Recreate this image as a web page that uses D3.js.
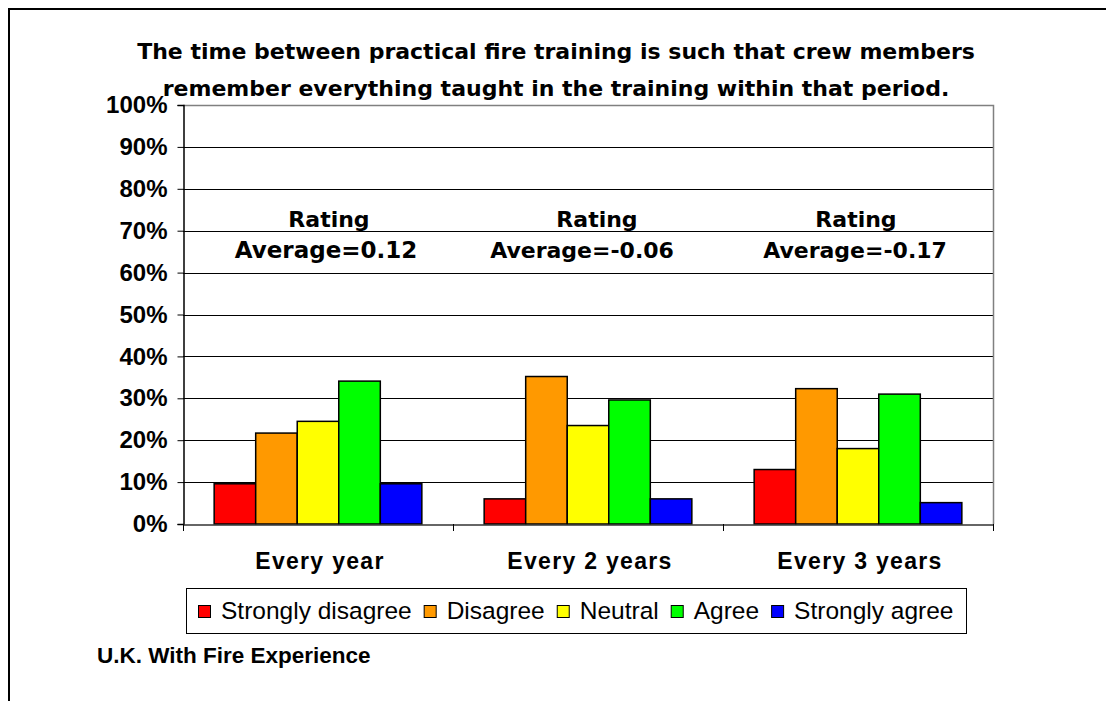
<!DOCTYPE html>
<html>
<head>
<meta charset="utf-8">
<script src="https://cdn.jsdelivr.net/npm/d3@7"></script>
<style>
  html, body { margin: 0; padding: 0; background: #fff; }
  svg { display: block; }
</style>
</head>
<body>
<svg id="chart" width="1106" height="701"></svg>
<script>
// ---- data ----
const categories = ["Every year", "Every 2 years", "Every 3 years"];
const seriesNames = ["Strongly disagree", "Disagree", "Neutral", "Agree", "Strongly agree"];
const seriesColors = ["#FF0000", "#FF9900", "#FFFF00", "#00FF00", "#0000FF"];
const stronglyDisagree = [9.6, 6.0, 13.0];
const disagree = [21.7, 35.2, 32.3];
const neutral = [24.5, 23.5, 18.0];
const agree = [34.1, 29.6, 31.0];
const stronglyAgree = [9.6, 6.0, 5.1];
const ratingAverages = ["0.12", "-0.06", "-0.17"];
const yTickValues = [0, 10, 20, 30, 40, 50, 60, 70, 80, 90, 100];
const yTickLabels = ["0%", "10%", "20%", "30%", "40%", "50%", "60%", "70%", "80%", "90%", "100%"];
const titleLines = [
  "The time between practical fire training is such that crew members",
  "remember everything taught in the training within that period."
];
const footerText = "U.K. With Fire Experience";

const seriesValues = [stronglyDisagree, disagree, neutral, agree, stronglyAgree];

// ---- layout ----
const svg = d3.select("#chart");
const plot = { left: 183, right: 993, top: 105, bottom: 524 };
const boldSans = "'Liberation Sans', Arial, sans-serif";
const verdanaLike = "'DejaVu Sans', Verdana, sans-serif";

// outer frame
svg.append("rect")
  .attr("x", 9).attr("y", 9).attr("width", 1300).attr("height", 900)
  .attr("fill", "none").attr("stroke", "#000").attr("stroke-width", 2);

// title
svg.append("g").selectAll("text").data(titleLines).join("text")
  .attr("x", 556).attr("y", (d, i) => 59 + i * 37)
  .attr("text-anchor", "middle")
  .attr("font-family", verdanaLike).attr("font-weight", "bold").attr("font-size", 22)
  .attr("fill", "#000")
  .text(d => d);

// scales
const x0 = d3.scaleBand().domain(categories).range([plot.left, plot.right]).paddingInner(0).paddingOuter(0);
const x1 = d3.scaleBand().domain(seriesNames).range([0, x0.bandwidth()]).paddingInner(0).paddingOuter(0.75);
const y = d3.scaleLinear().domain([0, 100]).range([plot.bottom, plot.top]);

// gridlines
svg.append("g").selectAll("line").data(yTickValues.filter(v => v > 0 && v < 100)).join("line")
  .attr("x1", plot.left).attr("x2", plot.right)
  .attr("y1", d => Math.round(y(d)) + 0.5).attr("y2", d => Math.round(y(d)) + 0.5)
  .attr("stroke", "#000").attr("stroke-width", 1);

// plot border top & right (gray)
svg.append("path")
  .attr("d", `M${plot.left},${Math.round(y(100)) + 0.5}H${plot.right + 0.5}V${plot.bottom}`)
  .attr("fill", "none").attr("stroke", "#808080").attr("stroke-width", 1.5);

// bars
const groups = svg.append("g").selectAll("g").data(categories).join("g")
  .attr("transform", d => `translate(${x0(d)},0)`);
groups.selectAll("rect")
  .data((c, ci) => seriesNames.map((s, si) => ({ s, si, v: seriesValues[si][ci] })))
  .join("rect")
  .attr("x", d => x1(d.s))
  .attr("width", x1.bandwidth())
  .attr("y", d => y(d.v))
  .attr("height", d => y(0) - y(d.v))
  .attr("fill", d => seriesColors[d.si])
  .attr("stroke", "#000").attr("stroke-width", 1.5);

// y axis
const yAxis = d3.axisLeft(y).tickValues(yTickValues).tickSize(6).tickPadding(10)
  .tickFormat((d, i) => yTickLabels[i]);
const ya = svg.append("g").attr("transform", `translate(${plot.left + 0.5},0)`).call(yAxis);
ya.select(".domain").attr("stroke", "#000").attr("stroke-width", 1.5);
ya.selectAll(".tick line").attr("stroke", "#000");
ya.selectAll(".tick text")
  .attr("font-family", boldSans).attr("font-weight", "bold").attr("font-size", 24).attr("fill", "#000");

// x axis
const xAxis = d3.axisBottom(x0).tickSize(0).tickFormat("");
const xa = svg.append("g").attr("transform", `translate(0,${plot.bottom + 0.5})`).call(xAxis);
xa.select(".domain").attr("stroke", "#333").attr("stroke-width", 1.5);
xa.selectAll(".tick").remove();
// category separator ticks
const sepPositions = categories.map(c => x0(c)).concat([x0(categories[categories.length - 1]) + x0.bandwidth()]);
svg.append("g").selectAll("line").data(sepPositions).join("line")
  .attr("x1", d => Math.round(d) + 0.5).attr("x2", d => Math.round(d) + 0.5)
  .attr("y1", plot.bottom).attr("y2", plot.bottom + 7)
  .attr("stroke", "#000").attr("stroke-width", 1);

// category labels
svg.append("g").selectAll("text").data(categories).join("text")
  .attr("x", d => x0(d) + x0.bandwidth() / 2 + 2)
  .attr("y", 569)
  .attr("text-anchor", "middle")
  .attr("font-family", boldSans).attr("font-weight", "bold").attr("font-size", 23)
  .attr("letter-spacing", 1.3)
  .attr("fill", "#000")
  .text(d => d);

// rating annotations
const ratingDx = [11, 9, -2];
const averageDx = [8, -6, -3];
const averageSize = [23, 22, 22];
const ann = svg.append("g");
categories.forEach((c, i) => {
  const cx = x0(c) + x0.bandwidth() / 2;
  ann.append("text")
    .attr("x", cx + ratingDx[i]).attr("y", 227)
    .attr("text-anchor", "middle")
    .attr("font-family", verdanaLike).attr("font-weight", "bold").attr("font-size", 22)
    .attr("fill", "#000").text("Rating");
  ann.append("text")
    .attr("x", cx + averageDx[i]).attr("y", 258)
    .attr("text-anchor", "middle")
    .attr("font-family", verdanaLike).attr("font-weight", "bold").attr("font-size", averageSize[i])
    .attr("fill", "#000").text("Average=" + ratingAverages[i]);
});

// legend
const legend = svg.append("g");
legend.append("rect")
  .attr("x", 186.5).attr("y", 588.5).attr("width", 780).attr("height", 45)
  .attr("fill", "#fff").attr("stroke", "#000").attr("stroke-width", 1);
let lx = 198;
seriesNames.forEach((s, i) => {
  legend.append("rect")
    .attr("x", lx + 0.5).attr("y", 605.5).attr("width", 12).attr("height", 12)
    .attr("fill", seriesColors[i]).attr("stroke", "#000").attr("stroke-width", 1);
  const t = legend.append("text")
    .attr("x", lx + 23).attr("y", 619)
    .attr("font-family", boldSans).attr("font-size", 24.5)
    .attr("fill", "#000").text(s);
  lx = lx + 23 + t.node().getComputedTextLength() + 12;
});

// footer
svg.append("text")
  .attr("x", 97).attr("y", 663)
  .attr("font-family", boldSans).attr("font-weight", "bold").attr("font-size", 22.5)
  .attr("fill", "#000").text(footerText);
</script>
</body>
</html>
